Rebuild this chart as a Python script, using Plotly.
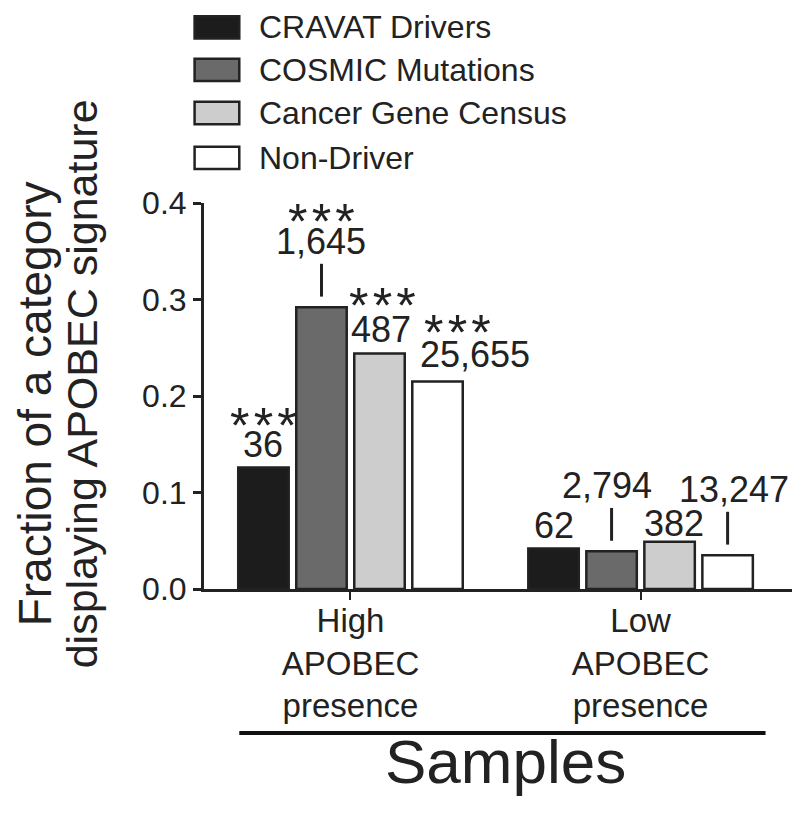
import plotly.graph_objects as go

groups = ["High<br>APOBEC<br>presence", "Low<br>APOBEC<br>presence"]
series = ["CRAVAT Drivers", "COSMIC Mutations", "Cancer Gene Census", "Non-Driver"]
colors = ["#1c1c1c", "#6a6a6a", "#cdcdcd", "#ffffff"]
values = [
    [0.126, 0.042],
    [0.292, 0.039],
    [0.244, 0.049],
    [0.215, 0.035],
]
counts = [
    ["36", "62"],
    ["1,645", "2,794"],
    ["487", "382"],
    ["25,655", "13,247"],
]
signif = [
    ["***", ""],
    ["***", ""],
    ["***", ""],
    ["***", ""],
]
leader = [
    [False, False],
    [True, True],
    [False, False],
    [False, True],
]
yticks = [0.0, 0.1, 0.2, 0.3, 0.4]

# label pixel nudges (style only)
label_dx = [[0, 0], [0, -5], [1, 4], [37, 6]]
star_dx = [[0, 0], [0, 0], [3, 0], [20, 0]]
label_dy = [[0, 0], [0, 0], [2, -4], [5, 0]]
star_gap = [[11, 0], [12, 0], [16, 0], [14, 0]]

FONT = "Liberation Sans, Arial, sans-serif"
TXT = "#222222"
n = len(series)
slot = 0.8 / n

fig = go.Figure()
for i, s in enumerate(series):
    fig.add_trace(go.Bar(
        x=list(range(len(groups))), y=values[i], name=s,
        marker=dict(color=colors[i], line=dict(color="#222222", width=2.5)),
        showlegend=False,
    ))

ann = []
shapes = []
for i in range(n):
    for g in range(len(groups)):
        xc = g + (i - (n - 1) / 2) * slot
        v = values[i][g]
        if leader[i][g]:
            shapes.append(dict(type="line", xref="x", yref="y", x0=xc, x1=xc,
                               y0=v + 0.011, y1=v + 0.045,
                               line=dict(color="#222222", width=3)))
            base = v + 0.045
        else:
            base = v
        dy = label_dy[i][g]
        ann.append(dict(x=xc, y=base, xref="x", yref="y", text=counts[i][g],
                        showarrow=False, xanchor="center", yanchor="bottom",
                        xshift=label_dx[i][g], yshift=dy,
                        font=dict(size=36, color=TXT, family=FONT)))
        if signif[i][g]:
            ann.append(dict(x=xc, y=base, xref="x", yref="y",
                            text="\u200a".join(signif[i][g]),
                            showarrow=False, xanchor="center", yanchor="bottom",
                            xshift=star_dx[i][g], yshift=dy + star_gap[i][g],
                            font=dict(size=50, color=TXT, family=FONT)))

# manual legend
leg_y = [1.455, 1.345, 1.233, 1.117]
for i, s in enumerate(series):
    yc = leg_y[i]
    shapes.append(dict(type="rect", xref="paper", yref="paper",
                       x0=-0.016, x1=0.06, y0=yc - 0.029, y1=yc + 0.029,
                       fillcolor=colors[i], line=dict(color="#222222", width=2.5)))
    ann.append(dict(x=0.09, y=yc, xref="paper", yref="paper", text=s, showarrow=False,
                    xanchor="left", yanchor="middle", font=dict(size=32, color=TXT, family=FONT)))

# bracket line under group labels
shapes.append(dict(type="line", xref="paper", yref="paper", x0=0.06, x1=0.955,
                   y0=-0.373, y1=-0.373, line=dict(color="#111111", width=4)))
ann.append(dict(x=0.513, y=-0.448, xref="paper", yref="paper", text="Samples",
                showarrow=False, xanchor="center", yanchor="middle",
                font=dict(size=62, color=TXT, family=FONT)))
ann.append(dict(x=-0.287, y=0.479, xref="paper", yref="paper",
                text="Fraction of a category", xanchor="center", yanchor="middle",
                showarrow=False, textangle=-90, font=dict(size=46, color=TXT, family=FONT)))
ann.append(dict(x=-0.207, y=0.531, xref="paper", yref="paper",
                text="displaying APOBEC signature", xanchor="center", yanchor="middle",
                showarrow=False, textangle=-90, font=dict(size=43, color=TXT, family=FONT)))

fig.update_layout(
    width=800, height=816,
    margin=dict(l=196, r=16, t=195, b=235),
    paper_bgcolor="white", plot_bgcolor="white",
    barmode="group", bargap=0.2, bargroupgap=0.13,
    annotations=ann, shapes=shapes,
    font=dict(family=FONT, color=TXT),
)
fig.update_xaxes(range=[-0.505, 1.522], tickvals=list(range(len(groups))), ticktext=groups,
                 showline=True, linecolor="#222222", linewidth=3, ticks="outside",
                 ticklen=8, tickwidth=2, tickcolor="#222222", showgrid=False, zeroline=False,
                 ticklabelstandoff=-8,
                 tickfont=dict(size=33, color=TXT, family=FONT))
fig.update_yaxes(range=[0, 0.4], tickvals=yticks, ticktext=[f"{t:.1f}" for t in yticks],
                 showline=True, linecolor="#222222", linewidth=3, ticks="outside",
                 ticklen=8, tickwidth=3, tickcolor="#222222", showgrid=False, zeroline=False,
                 tickfont=dict(size=32, color=TXT, family=FONT))

fig.write_html("out.html")
